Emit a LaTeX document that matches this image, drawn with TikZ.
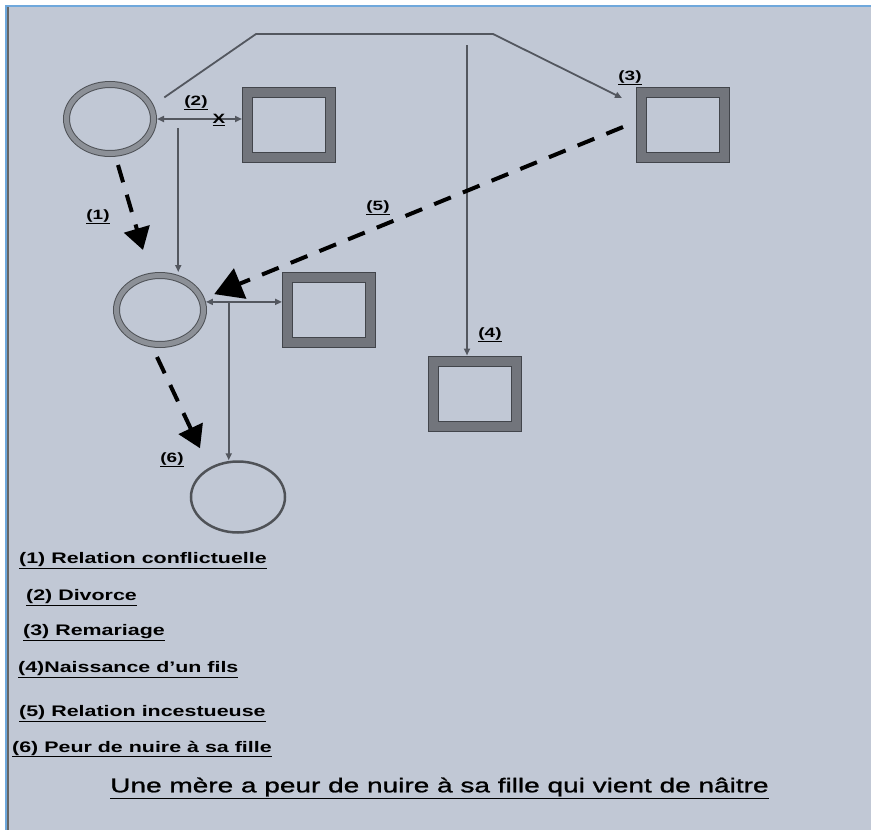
\documentclass[tikz,border=0pt]{standalone}
\usepackage{fontspec}
\usepackage{tikz}
\usetikzlibrary{calc,arrows.meta,shapes.geometric,positioning}
\setmainfont{Liberation Sans}
\newfontfamily\stretchfont[FakeStretch=1.4]{Liberation Sans}
\newfontfamily\headfont[FakeStretch=1.4,FakeBold=1.2]{Liberation Sans}

\definecolor{paper}{HTML}{C1C8D5}
\definecolor{frameblue}{HTML}{6FA8DC}
\definecolor{linkgray}{HTML}{53575F}
\definecolor{ringedge}{HTML}{4F5257}
\definecolor{ringband}{HTML}{8C9097}
\definecolor{boxedge}{HTML}{42454B}
\definecolor{boxband}{HTML}{72757C}

\begin{document}
\begin{tikzpicture}[x=1pt,y=-1pt]

  % Parameters
  \def\wpage{871}
  \def\hpage{830}

  % Styles
  \tikzstyle{ring}=[ellipse,draw=ringedge,double=ringband,double distance=5pt,line width=1pt,minimum width=87pt,minimum height=69pt,inner sep=0pt,outer sep=3.5pt]
  \tikzstyle{man}=[rectangle,draw=boxedge,double=boxband,double distance=9pt,line width=1pt,minimum width=83pt,minimum height=65pt,inner sep=0pt,outer sep=5.5pt,fill=paper]
  \tikzstyle{baby}=[ellipse,draw=ringedge,line width=2.5pt,minimum width=94pt,minimum height=71pt,inner sep=0pt,outer sep=1.25pt]
  \tikzstyle{link}=[draw=linkgray,line width=1.8pt,>={Triangle[length=7pt,width=6pt]}]
  \tikzstyle{bond}=[draw=black,line width=4pt,dash pattern=on 18pt off 13pt,-{Triangle[length=22pt,width=26pt]}]
  \tikzstyle{tag}=[font=\stretchfont\bfseries\fontsize{13.5}{15}\selectfont,inner sep=0pt]
  \tikzstyle{legend}=[font=\stretchfont\bfseries\fontsize{15.3}{18}\selectfont,anchor=west,inner sep=0pt]
  \tikzstyle{headline}=[font=\headfont\fontsize{20}{24}\selectfont,inner sep=0pt]

  % ===========================================================================

  % Draw page
  \useasboundingbox (0,0) rectangle (\wpage,\hpage);
  \fill[white] (0,0) rectangle (\wpage,\hpage);
  \fill[paper] (5,5) rectangle (\wpage,\hpage);
  \fill[frameblue] (5,5) rectangle (\wpage,7);
  \fill[frameblue] (5,5) rectangle (7,\hpage);
  \fill[black!60] (7,7) rectangle (8.5,\hpage);

  % Draw persons
  \node[ring] (m1) at (110,119) {};
  \node[man] (h1) at (289,125) {};
  \node[man] (h2) at (683,125) {};
  \node[ring] (m2) at (160,310) {};
  \node[man] (h3) at (329,310) {};
  \node[man] (son) at (474.5,393.5) {};
  \node[baby] (girl) at (238,497) {};

  % Draw divorce
  \coordinate (d1) at ($(m1.east)!0.25!(m1.east -| h1.west)$);
  \draw[link,<->] (m1.east) -- (m1.east -| h1.west);
  \draw[link,->,shorten <=9pt] (d1) -- (d1 |- m2.north);

  % Draw remarriage and son
  \coordinate (r1) at (256,34);
  \coordinate (r2) at (493,34);
  \coordinate (r3) at (467,34);
  \draw[link,->,shorten <=13pt] (m1.18) -- (r1) -- (r2) -- ([shift={(-14,11)}]h2.north west);
  \draw[link,->,shorten <=11pt] (r3) -- (r3 |- son.north);

  % Draw second couple and daughter
  \coordinate (d2) at ($(m2.10)!0.3!(m2.10 -| h3.west)$);
  \draw[link,<->] (m2.10) -- (m2.10 -| h3.west);
  \draw[link,->] (d2) -- (d2 |- girl.north);

  % Draw dashed relations
  \draw[bond] ([shift={(8,8)}]m1.south) -- ([shift={(-17,-22)}]m2.north);
  \draw[bond] ([shift={(-3,9)}]m2.south) -- ([shift={(-38,-12)}]girl.north);
  \draw[bond,-{Triangle[length=28pt,width=32pt]}] ([shift={(-13,2)}]h2.west) -- ([shift={(21,11)}]m2.north east);

  % Draw tags
  \node[tag] (t1) at (98,217) {\underline{(1)}};
  \node[tag] (t2) at (196,103) {\underline{(2)}};
  \node[tag] (tx) at (219,120) {\underline{X}};
  \node[tag] (t3) at (630,78) {\underline{(3)}};
  \node[tag] (t4) at (490,335) {\underline{(4)}};
  \node[tag] (t5) at (378,208) {\underline{(5)}};
  \node[tag] (t6) at (172,460) {\underline{(6)}};

  % Draw legend
  \foreach \i/\x/\y/\txt in {1/19/561/{(1) Relation conflictuelle},2/26/598/{(2) Divorce},3/23/633/{(3) Remariage},4/18/670/{(4)Naissance d’un fils},5/19/714/{(5) Relation incestueuse},6/12/749/{(6) Peur de nuire à sa fille}}
    \node[legend] (key-\i) at (\x,\y) {\underline{\txt}};
  \node[headline] (title) at (439.5,788) {\underline{Une mère a peur de nuire à sa fille qui vient de nâitre}};

\end{tikzpicture}
\end{document}
